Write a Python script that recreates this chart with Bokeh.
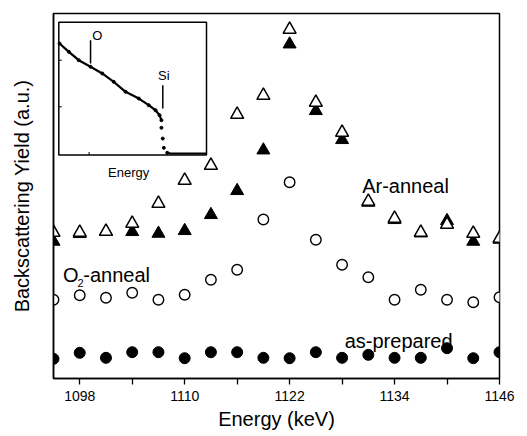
from bokeh.plotting import figure
from bokeh.models import Range1d, FixedTicker, Label
from bokeh.embed import file_html
from bokeh.resources import INLINE

# ---- main data (energy in keV, yield in a.u.) ----
energy = [1095, 1098, 1101, 1104, 1107, 1110, 1113, 1116, 1119,
          1122, 1125, 1128, 1131, 1134, 1137, 1140, 1143, 1146]
ar_open = [146, 146, 147, 155, 175, 198, 213, 264, 283,
           349, 276, 246, 177, 160, 146, 154, 145, 140]
ar_filled = [137, 144.7, 147, 146.7, 145, 147.7, 163.7, 187.7, 228.3,
             334.3, 267.7, 238.7, 176, 158.7, 145.3, 157.7, 137, 139]
o2_anneal = [78.7, 83.3, 80.7, 85.7, 78.7, 83.7, 98.7, 108.7, 159,
             196.3, 138.7, 113.7, 101.3, 78.7, 88.7, 78.7, 76.3, 81.3]
as_prepared = [19.7, 25.7, 20.7, 26.3, 26.3, 20.3, 26.3, 26.3, 20.7,
               20.3, 26.3, 20.7, 23.7, 20.7, 20.7, 30.3, 20.3, 26.3]
x_ticks = [1098, 1110, 1122, 1134, 1146]
x_minor = [1104, 1116, 1128, 1140]

# ---- inset spectrum (normalised channel / counts) ----
inset_x = [0.005, 0.068, 0.135, 0.215, 0.294, 0.372, 0.452, 0.542,
           0.609, 0.655, 0.682, 0.695]
inset_y = [0.840, 0.777, 0.714, 0.664, 0.614, 0.551, 0.476, 0.425,
           0.375, 0.337, 0.300, 0.262]
drop_x = [0.695, 0.704, 0.711, 0.734]
drop_y = [0.205, 0.124, 0.054, 0.017]
tail_x = [0.734, 0.756, 1.0]
tail_y = [0.017, 0.012, 0.012]
inset_yticks = [0.363, 0.714]
inset_xticks = [0.205]

FONT = "Liberation Sans"
W, H = 527, 436
BL, BR, BT, BB = 53, 28, 13, 58

p = figure(width=W, height=H, x_range=Range1d(1095, 1146), y_range=Range1d(0, 365),
           output_backend="svg", toolbar_location=None,
           min_border_left=BL, min_border_right=BR, min_border_top=BT, min_border_bottom=BB)
p.grid.visible = False
p.outline_line_color = "black"
p.outline_line_width = 1.5
p.background_fill_color = "white"
p.border_fill_color = "white"

# x axis
p.xaxis.ticker = FixedTicker(ticks=x_ticks, minor_ticks=x_minor)
p.xaxis.axis_line_width = 1.5
p.xaxis.axis_line_color = "black"
p.xaxis.major_tick_in = 0
p.xaxis.major_tick_out = 6
p.xaxis.minor_tick_in = 0
p.xaxis.minor_tick_out = 6
p.xaxis.major_tick_line_width = 1.3
p.xaxis.minor_tick_line_width = 1.3
p.xaxis.major_tick_line_color = "black"
p.xaxis.minor_tick_line_color = "black"
p.xaxis.major_label_text_font = FONT
p.xaxis.major_label_text_font_size = "14px"
p.xaxis.major_label_text_color = "black"
p.xaxis.major_label_standoff = 6
p.xaxis.axis_label = "Energy (keV)"
p.xaxis.axis_label_text_font = FONT
p.xaxis.axis_label_text_font_size = "20px"
p.xaxis.axis_label_text_font_style = "normal"
p.xaxis.axis_label_text_color = "black"
p.xaxis.axis_label_standoff = 4

# y axis: label only, no ticks
p.yaxis.ticker = FixedTicker(ticks=[], minor_ticks=[])
p.yaxis.axis_label = "Backscattering Yield (a.u.)"
p.yaxis.axis_label_text_font = FONT
p.yaxis.axis_label_text_font_size = "20px"
p.yaxis.axis_label_text_font_style = "normal"
p.yaxis.axis_label_text_color = "black"
p.yaxis.major_tick_line_color = None
p.yaxis.minor_tick_line_color = None
p.yaxis.major_label_standoff = 0
p.yaxis.axis_line_width = 1.5
p.yaxis.axis_line_color = "black"
p.yaxis.axis_label_standoff = 21

# data markers
p.scatter(energy, as_prepared, marker="circle", size=11, fill_color="black", line_color="black")
p.scatter(energy, o2_anneal, marker="circle", size=10.5, fill_color="white",
          line_color="black", line_width=1.4)
p.scatter(energy, ar_filled, marker="triangle", size=13, fill_color="black", line_color="black")
p.scatter(energy, ar_open, marker="triangle", size=13, fill_color="white",
          line_color="black", line_width=1.5)

# series labels
lab = dict(text_font=FONT, text_color="black", text_baseline="alphabetic")
p.add_layout(Label(x=1130.3, y=192.3, text="Ar-anneal", text_font_size="20px", **lab))
p.add_layout(Label(x=1128.3, y=37.3, text="as-prepared", text_font_size="20px", **lab))
p.add_layout(Label(x=1096.1, y=104, text="O", text_font_size="20px", **lab))
p.add_layout(Label(x=1097.75, y=96, text="2", text_font_size="11px", **lab))
p.add_layout(Label(x=1098.4, y=104, text="-anneal", text_font_size="20px", **lab))

# ---- inset, drawn through extra ranges ----
frame_w = W - BL - BR
frame_h = H - BT - BB
in_left, in_w = 5.3, 147.7      # px from frame left, px width
in_bottom, in_h = 223.5, 132.8  # px from frame bottom, px height
xs = -in_left / in_w
ys = -in_bottom / in_h
p.extra_x_ranges = {"ix": Range1d(xs, xs + frame_w / in_w)}
p.extra_y_ranges = {"iy": Range1d(ys, ys + frame_h / in_h)}
kw = dict(x_range_name="ix", y_range_name="iy")

p.quad(left=0, right=1, bottom=0, top=1, fill_color="white", line_color="black",
       line_width=1.5, **kw)
# small inward ticks of the inset frame
tlx, tly = 3 / in_w, 3 / in_h
p.segment(x0=[0] * len(inset_yticks), y0=inset_yticks,
          x1=[tlx] * len(inset_yticks), y1=inset_yticks,
          line_width=1, line_color="black", **kw)
p.segment(x0=inset_xticks, y0=[0] * len(inset_xticks),
          x1=inset_xticks, y1=[tly] * len(inset_xticks),
          line_width=1, line_color="black", **kw)
p.line(inset_x, inset_y, line_width=2.2, line_color="black", **kw)
p.scatter(inset_x, inset_y, size=3, color="black", **kw)
p.scatter(drop_x, drop_y, size=3, color="black", **kw)
p.line(tail_x, tail_y, line_width=2, line_color="black", **kw)
# element markers
p.segment(x0=[0.215, 0.704], y0=[0.864, 0.526], x1=[0.215, 0.704], y1=[0.689, 0.350],
          line_width=1.5, line_color="black", **kw)
ilab = dict(text_font=FONT, text_color="black", text_align="center", **kw)
p.add_layout(Label(x=0.26, y=0.90, text="O", text_font_size="13px",
                   text_baseline="middle", **ilab))
p.add_layout(Label(x=0.711, y=0.601, text="Si", text_font_size="13px",
                   text_baseline="middle", **ilab))
p.add_layout(Label(x=0.473, y=-0.075, text="Energy", text_font_size="13px",
                   text_baseline="top", **ilab))

open("out.html", "w").write(file_html(p, INLINE))
